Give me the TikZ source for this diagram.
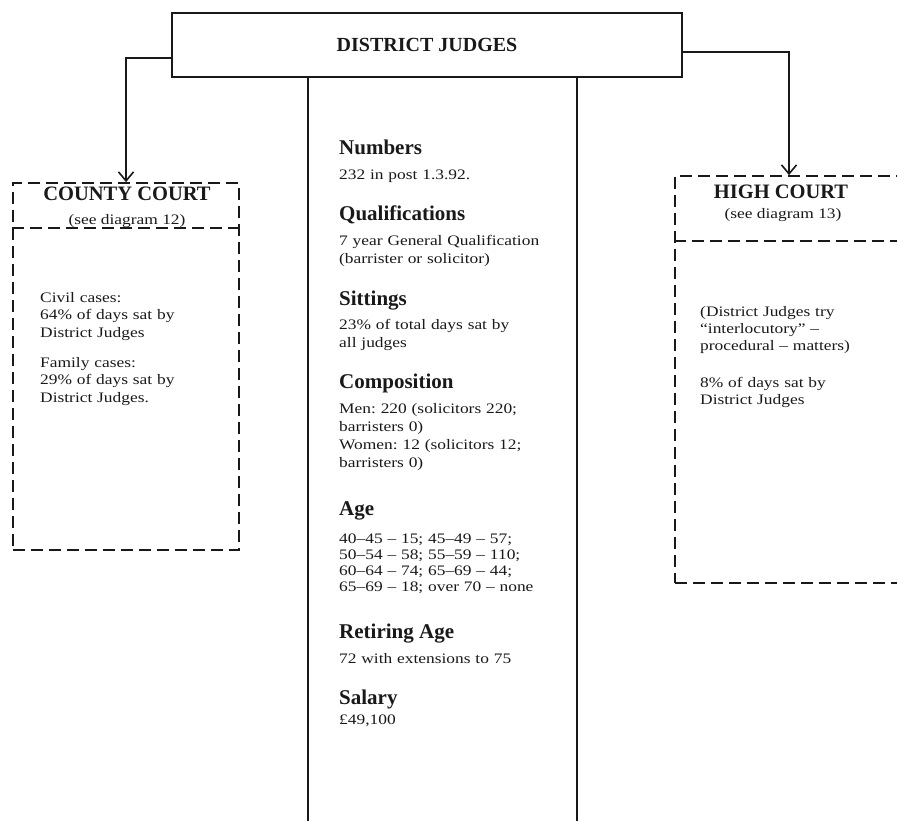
\documentclass[tikz,border=0pt]{standalone}
\usepackage{fontspec}
\setmainfont{Liberation Serif}
\newfontfamily\bodyfont{Liberation Serif}[FakeStretch=1.2]
\usetikzlibrary{arrows.meta}
\frenchspacing

\definecolor{ink}{gray}{0.1}

\tikzset{
  solidline/.style={draw=ink, line width=1.8pt},
  dashline/.style={draw=ink, line width=1.7pt, dash pattern=on 12pt off 6pt},
  conn/.style={solidline, -{Straight Barb[length=9pt,width=15pt,line width=1.6pt]}},
  topbox/.style={solidline, rectangle, inner sep=0pt, text=ink,
    font=\fontsize{20}{24}\selectfont\bfseries},
  courtbox/.style={dashline, rectangle, inner sep=0pt},
  boxtitle/.style={anchor=base, inner sep=0pt, text=ink,
    font=\fontsize{20.5}{24}\selectfont\bfseries},
  boxref/.style={anchor=base, inner sep=0pt, text=ink,
    font=\bodyfont\fontsize{14.5}{18}\selectfont},
  head/.style={anchor=base west, inner sep=0pt, text=ink,
    font=\fontsize{21}{24}\selectfont\bfseries},
  blk/.style={anchor=base west, inner sep=0pt, text=ink, text width=230pt,
    align=left, font=\bodyfont\fontsize{14.5}{18}\selectfont\frenchspacing},
  sideblk/.style={blk, text width=190pt, font=\bodyfont\fontsize{14.5}{17.5}\selectfont\frenchspacing},
}

\begin{document}
\begin{tikzpicture}[x=1pt,y=-1pt]
\useasboundingbox (0,0) rectangle (897,821);
\clip (0,0) rectangle (897,821);

% central heading box
\node[topbox, minimum width=510pt, minimum height=64pt] (dj) at (427,45) {DISTRICT JUDGES};

% the two court boxes
\node[courtbox, minimum width=226pt, minimum height=367pt] (cc) at (126,366.5) {};
\node[courtbox, minimum width=228pt, minimum height=407pt] (hc) at (789,379.5) {};

% dividers under the court titles
\coordinate (ccdiv) at (0,228);
\coordinate (hcdiv) at (0,241);
\draw[dashline] (cc.west |- ccdiv) -- (cc.east |- ccdiv);
\draw[dashline] (hc.west |- hcdiv) -- (hc.east |- hcdiv);

% connectors from the heading box
\draw[conn] ([yshift=-13pt]dj.west) -| (cc.north);
\draw[conn] ([yshift=-7pt]dj.east) -| (hc.north);

% central column
\coordinate (colL) at (308,821);
\coordinate (colR) at (577,821);
\draw[solidline] (dj.south -| colL) -- (colL);
\draw[solidline] (dj.south -| colR) -- (colR);

% county court
\node[boxtitle] (cctitle) at (127,201) {COUNTY COURT};
\node[boxref] (ccref) at (127,225) {(see diagram 12)};
\node[sideblk] (cccivil) at (40,302) {Civil cases:\\64\% of days sat by\\District Judges};
\node[sideblk] (ccfamily) at (40,367) {Family cases:\\29\% of days sat by\\District Judges.};

% high court
\node[boxtitle] (hctitle) at (781,199) {HIGH COURT};
\node[boxref] (hcref) at (783,219) {(see diagram 13)};
\node[sideblk] (hcnote) at (700,316) {(District Judges try\\“interlocutory” –\\procedural – matters)};
\node[sideblk] (hcdays) at (700,387) {8\% of days sat by\\District Judges};

% central column text
\node[head] (hnum) at (339,155) {Numbers};
\node[blk] (bnum) at (339,180) {232 in post 1.3.92.};
\node[head] (hqual) at (339,221) {Qualifications};
\node[blk] (bqual) at (339,246) {7 year General Qualification\\(barrister or solicitor)};
\node[head] (hsit) at (339,305) {Sittings};
\node[blk] (bsit) at (339,329) {23\% of total days sat by\\all judges};
\node[head] (hcomp) at (339,388) {Composition};
\node[blk] (bmen) at (339,413) {Men: 220 (solicitors 220;\\barristers 0)};
\node[blk] (bwomen) at (339,449) {Women: 12 (solicitors 12;\\barristers 0)};
\node[head] (hage) at (339,515) {Age};
\node[blk, font=\bodyfont\fontsize{14.5}{16}\selectfont\frenchspacing] (bage) at (339,543)
  {40–45 – 15; 45–49 – 57;\\50–54 – 58; 55–59 – 110;\\60–64 – 74; 65–69 – 44;\\65–69 – 18; over 70 – none};
\node[head] (hret) at (339,638) {Retiring Age};
\node[blk] (bret) at (339,663) {72 with extensions to 75};
\node[head] (hsal) at (339,704) {Salary};
\node[blk] (bsal) at (339,724) {£49,100};
\end{tikzpicture}
\end{document}
